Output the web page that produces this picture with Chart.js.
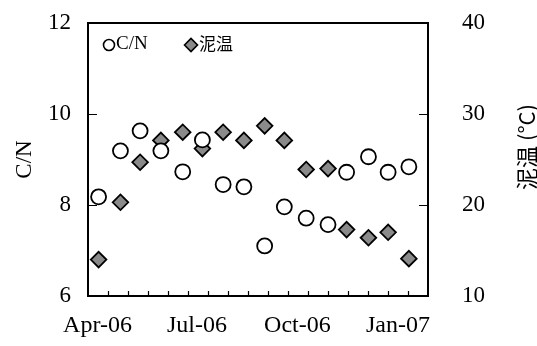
<!DOCTYPE html>
<html>
<head>
<meta charset="utf-8">
<script src="https://cdn.jsdelivr.net/npm/chart.js@4"></script>
<style>
  html, body { margin: 0; padding: 0; background: #fff; }
  #wrap { width: 537px; height: 346px; }
</style>
</head>
<body>
<div id="wrap"><canvas id="chart"></canvas></div>
<script>
"use strict";
// sampling dates
const sampleDates = ['2006-04-02', '2006-04-22', '2006-05-10', '2006-05-29', '2006-06-18', '2006-07-06', '2006-07-25', '2006-08-13',
    '2006-09-01', '2006-09-19', '2006-10-09', '2006-10-29', '2006-11-15', '2006-12-05', '2006-12-23', '2007-01-11'];
const cnRatio = [8.18, 9.19, 9.63, 9.19, 8.73, 9.43, 8.45, 8.40, 7.10, 7.96, 7.71, 7.57, 8.72, 9.06, 8.72, 8.84];
const mudTemp = [14.0, 20.3, 24.7, 27.1, 28.0, 26.2, 28.0, 27.1, 28.7, 27.1, 23.9, 24.0, 17.3, 16.4, 17.0, 14.1];
const xTickDates = ['2006-04-01', '2006-07-01', '2006-10-01', '2007-01-01'];
const xTickLabels = ['Apr-06', 'Jul-06', 'Oct-06', 'Jan-07'];
const leftTicks = [6, 8, 10, 12];
const rightTicks = [10, 20, 30, 40];

const SERIF = "'Liberation Serif', 'Times New Roman', serif";
const CJK = "'Noto Sans CJK JP', 'Noto Sans CJK SC', sans-serif";

function dayOf(s) {
    return (Date.parse(s) - Date.parse('2006-04-01')) / 864e5;
}

const canvas = document.getElementById('chart');
const ctx = canvas.getContext('2d');

// inward ticks, top border, legend and the right title
const extras = {
    id: 'extras',
    afterDraw(chart) {
        const c = chart.ctx;
        const a = chart.chartArea;
        const sl = chart.scales.yL, sr = chart.scales.yR;
        c.save();
        c.strokeStyle = '#000';
        c.lineWidth = 2;
        c.beginPath();
        c.moveTo(a.left - 1, a.top);
        c.lineTo(a.right + 1, a.top);
        c.stroke();
        c.lineWidth = 1.2;
        c.beginPath();
        for (let k = 1; k < 17; k++) {
            const x = Math.round(a.left + k * (a.right - a.left) / 17) + 0.5;
            c.moveTo(x, a.bottom);
            c.lineTo(x, a.bottom - 5);
        }
        leftTicks.slice(1, -1).forEach(v => {
            const y = Math.round(sl.getPixelForValue(v)) + 0.5;
            c.moveTo(a.left, y);
            c.lineTo(a.left + 9, y);
        });
        rightTicks.slice(1, -1).forEach(v => {
            const y = Math.round(sr.getPixelForValue(v)) + 0.5;
            c.moveTo(a.right, y);
            c.lineTo(a.right - 9, y);
        });
        c.stroke();

        // legend
        const ds = chart.data.datasets;
        const items = [
            { x: 109, tx: 116, font: '19px ' + SERIF },
            { x: 191, tx: 199, font: '17px ' + CJK }
        ];
        items.forEach((it, i) => {
            const d = ds[i];
            c.fillStyle = d.backgroundColor;
            c.strokeStyle = d.borderColor;
            c.lineWidth = 1.6;
            Chart.helpers.drawPoint(c, { pointStyle: d.pointStyle, radius: i === 0 ? 5.5 : 6.5, borderWidth: 1.6 }, it.x, a.top + 22);
            c.fillStyle = '#000';
            c.font = it.font;
            c.textBaseline = 'middle';
            c.textAlign = 'left';
            c.fillText(d.label, it.tx, a.top + 21);
        });

        // right axis title, reading upwards
        c.translate(527, 147);
        c.rotate(-Math.PI / 2);
        c.font = '22px ' + CJK;
        c.textAlign = 'center';
        c.textBaseline = 'middle';
        c.fillText('泥温 (°C)', 0, 0);
        c.restore();
    }
};

function fixWidth(w) {
    return s => {
        s.width = w;
        s.paddingTop = 0;
        s.paddingBottom = 0;
    };
}

new Chart(ctx, {
    type: 'scatter',
    data: {
        datasets: [{
            label: 'C/N',
            data: sampleDates.map((d, i) => ({ x: dayOf(d), y: cnRatio[i] })),
            yAxisID: 'yL',
            pointStyle: 'circle',
            pointRadius: 7.5,
            pointHoverRadius: 7.5,
            backgroundColor: '#ffffff',
            borderColor: '#000000',
            borderWidth: 1.8
        }, {
            label: '泥温',
            data: sampleDates.map((d, i) => ({ x: dayOf(d), y: mudTemp[i] })),
            yAxisID: 'yR',
            pointStyle: 'rectRot',
            pointRadius: 7.8,
            pointHoverRadius: 7.8,
            backgroundColor: '#8a8a8a',
            borderColor: '#000000',
            borderWidth: 1.8
        }]
    },
    options: {
        responsive: true,
        maintainAspectRatio: false,
        animation: false,
        layout: { padding: { top: 23, left: 0, right: 0, bottom: 0 } },
        plugins: {
            legend: { display: false },
            tooltip: { enabled: false }
        },
        scales: {
            x: {
                type: 'linear',
                min: -8.7,
                max: 302.5,
                afterBuildTicks: s => { s.ticks = xTickDates.map(d => ({ value: dayOf(d) })); },
                afterFit: s => { s.height = 50; s.paddingLeft = 0; s.paddingRight = 0; },
                ticks: {
                    callback: (v, i) => xTickLabels[i],
                    color: '#000',
                    font: { family: SERIF, size: 24 },
                    padding: 15,
                    maxRotation: 0,
                    autoSkip: false
                },
                grid: { display: false, drawTicks: false },
                border: { display: true, color: '#000', width: 2 }
            },
            yL: {
                position: 'left',
                min: 6,
                max: 12,
                afterBuildTicks: s => { s.ticks = leftTicks.map(v => ({ value: v })); },
                afterFit: fixWidth(88),
                ticks: {
                    color: '#000',
                    font: { family: SERIF, size: 23 },
                    padding: 17
                },
                title: {
                    display: true,
                    text: 'C/N',
                    color: '#000',
                    font: { family: SERIF, size: 23 },
                    padding: { top: 11, bottom: 0 }
                },
                grid: { display: false, drawTicks: false },
                border: { display: true, color: '#000', width: 2 }
            },
            yR: {
                position: 'right',
                min: 10,
                max: 40,
                afterBuildTicks: s => { s.ticks = rightTicks.map(v => ({ value: v })); },
                afterFit: fixWidth(109),
                ticks: {
                    color: '#000',
                    font: { family: SERIF, size: 23 },
                    padding: 34
                },
                grid: { display: false, drawTicks: false },
                border: { display: true, color: '#000', width: 2 }
            }
        }
    },
    plugins: [extras]
});
</script>
</body>
</html>
